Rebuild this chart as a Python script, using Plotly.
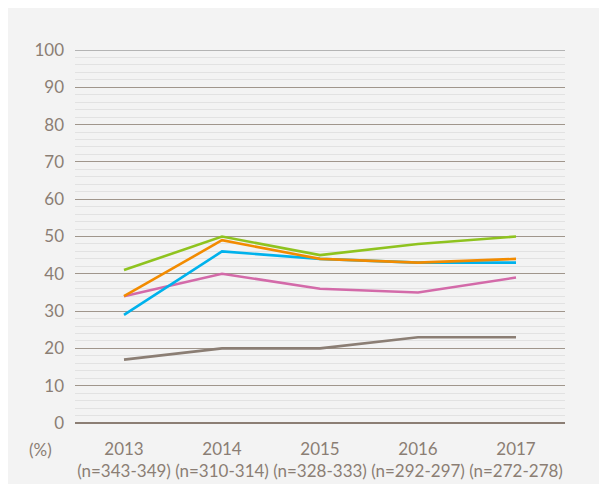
import plotly.graph_objects as go

years = ["2013", "2014", "2015", "2016", "2017"]
n_labels = ["(n=343-349)", "(n=310-314)", "(n=328-333)", "(n=292-297)", "(n=272-278)"]
categories = [f"{y}<br>{n}" for y, n in zip(years, n_labels)]

green = [41, 50, 45, 48, 50]
orange = [34, 49, 44, 43, 44]
blue = [29, 46, 44, 43, 43]
pink = [34, 40, 36, 35, 39]
grey = [17, 20, 20, 23, 23]

series = [
    ("grey", grey, "#8b7e74"),
    ("pink", pink, "#d36aa9"),
    ("blue", blue, "#00b2ec"),
    ("orange", orange, "#f28b00"),
    ("green", green, "#8fc31f"),
]

fig = go.Figure()
for name, vals, col in series:
    fig.add_trace(go.Scatter(x=categories, y=vals, mode="lines", name=name,
                             line=dict(color=col, width=2.6)))

txt = "#8b7e74"
fig.update_layout(
    width=599, height=476,
    margin=dict(l=67, r=42, t=42, b=61, autoexpand=False),
    paper_bgcolor="#f3f3f3",
    plot_bgcolor="#f3f3f3",
    showlegend=False,
    font=dict(family="Lato, 'Open Sans', sans-serif", size=17, color=txt),
    xaxis=dict(range=[-0.5, 4.5], showgrid=False, zeroline=False, showline=False,
               automargin=False,
               ticks="", tickfont=dict(size=17, color=txt), ticklabelstandoff=14),
    yaxis=dict(range=[0, 100], dtick=10, gridcolor="#a0968c", gridwidth=1.4,
               automargin=False,
               zeroline=True, zerolinecolor="#8b7e74", zerolinewidth=1.6,
               showline=False, ticks="", ticklabelstandoff=10,
               tickfont=dict(size=17, color=txt),
               minor=dict(dtick=2, showgrid=True, gridcolor="#e2e2e2", gridwidth=1)),
    shapes=[
        dict(type="line", xref="paper", yref="y", x0=0, x1=1, y0=100, y1=100,
             line=dict(color="#b4b4b4", width=2), layer="below"),
    ],
    annotations=[
        dict(text="(%)", xref="paper", yref="paper", x=-0.071, y=-0.072, showarrow=False,
             xanchor="center", yanchor="middle", font=dict(size=17, color=txt)),
    ],
)

fig.write_html("out.html")
